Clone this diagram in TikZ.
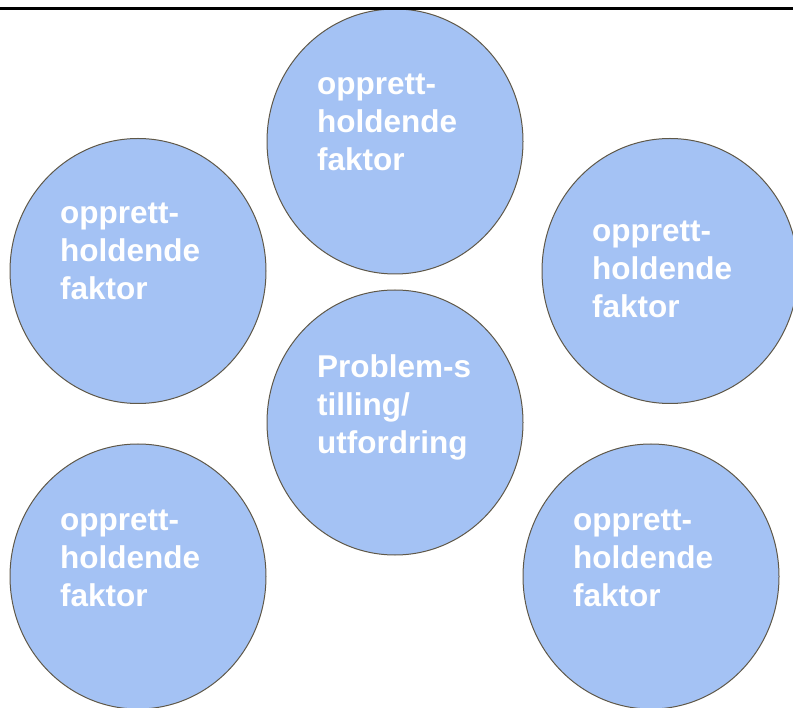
\documentclass[tikz,border=0pt]{standalone}
\usepackage{fontspec}
\setmainfont{Liberation Sans}
\usetikzlibrary{shapes.geometric}
\definecolor{Bubble_Blue}{HTML}{A4C2F4}
\definecolor{Bubble_Edge}{HTML}{5F5848}

\begin{document}
\begin{tikzpicture}[x=1pt, y=-1pt,
    bubble/.style={ellipse, draw=Bubble_Edge, fill=Bubble_Blue, line width=1pt,
        minimum width=256pt, minimum height=265pt, inner sep=0pt},
    label text/.style={anchor=base west, align=left, text=white, inner sep=0pt,
        font=\fontsize{31.5}{38}\selectfont\bfseries}]
    % Page frame (the right bubble runs off the edge)
    \useasboundingbox (0,0) rectangle (793,708);
    \clip (0,0) rectangle (793,708);

    % Outer bubbles: name / centre x / centre y / last baseline
    \foreach \name/\x/\y/\b in {top/395/141.5/170.3, leftTop/138/271/300,
                                rightTop/670/271/317.7, leftBot/138/576.5/606,
                                rightBot/651/576.5/606} {
        \node[bubble] (\name) at (\x,\y) {};
        \node[label text] (\name-text) at (\x-78,\b) {opprett-\\holdende\\faktor};
    }

    % Centre bubble
    \node[bubble] (problem) at (395,422.5) {};
    \node[label text] (problem-text) at (317,453.3) {Problem-s\\tilling/\\utfordring};

    % Rule along the top
    \coordinate (ruleL) at (0,8.5);
    \coordinate (ruleR) at (793,8.5);
    \draw[line width=2.5pt] (ruleL) -- (ruleR);
\end{tikzpicture}
\end{document}
